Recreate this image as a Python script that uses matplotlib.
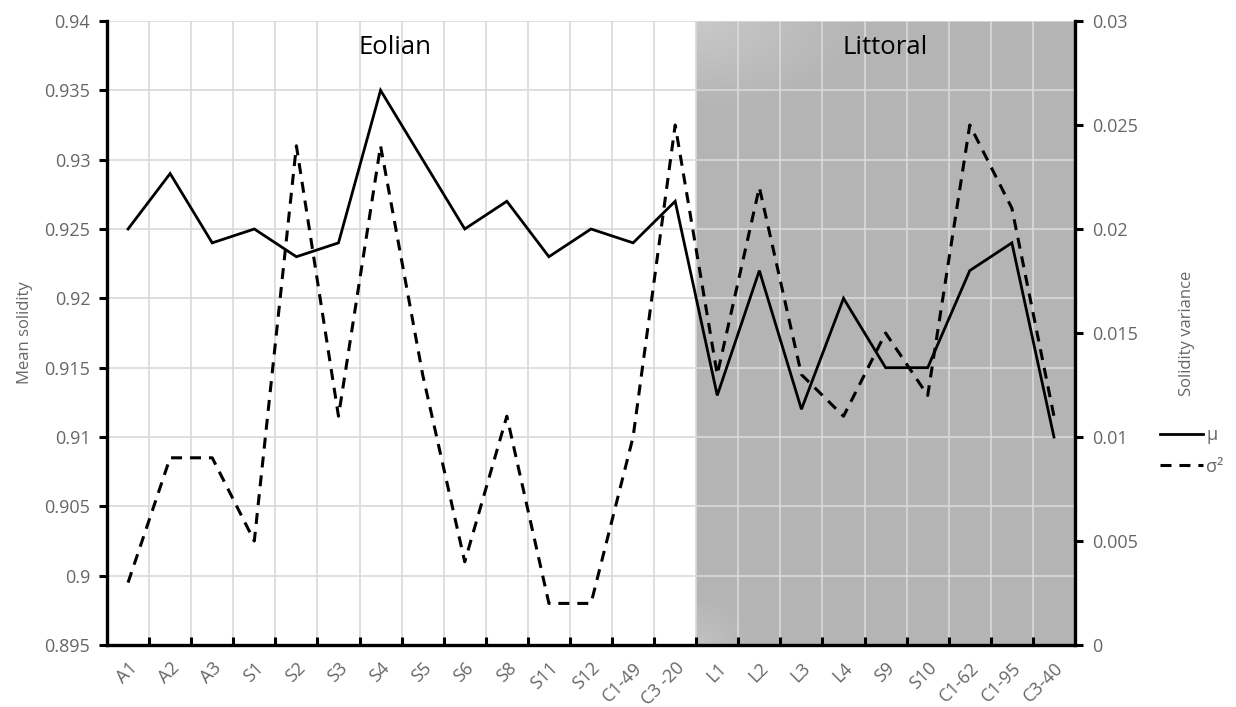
import matplotlib
matplotlib.use("Agg")
import matplotlib.pyplot as plt
import numpy as np
from matplotlib.lines import Line2D

categories = ["A1", "A2", "A3", "S1", "S2", "S3", "S4", "S5", "S6", "S8", "S11", "S12",
              "C1-49", "C3 -20", "L1", "L2", "L3", "L4", "S9", "S10", "C1-62", "C1-95", "C3-40"]
mean_solidity = [0.925, 0.929, 0.924, 0.925, 0.923, 0.924, 0.935, 0.930, 0.925, 0.927, 0.923, 0.925,
                 0.924, 0.927, 0.913, 0.922, 0.912, 0.920, 0.915, 0.915, 0.922, 0.924, 0.910]
solidity_var = [0.003, 0.009, 0.009, 0.005, 0.024, 0.011, 0.024, 0.013, 0.004, 0.011, 0.002, 0.002,
                0.010, 0.025, 0.013, 0.022, 0.013, 0.011, 0.015, 0.012, 0.025, 0.021, 0.011]
left_ticks = [0.895, 0.9, 0.905, 0.91, 0.915, 0.92, 0.925, 0.93, 0.935, 0.94]
right_ticks = [0, 0.005, 0.01, 0.015, 0.02, 0.025, 0.03]
n_eolian = 14

plt.rcParams['font.family'] = ['Open Sans', 'DejaVu Sans']
gray = '#666666'

fig = plt.figure(figsize=(12.36, 7.07), dpi=100)
ax = fig.add_axes([107/1236, 1-645/707, (1075-107)/1236, (645-21)/707])
ax2 = ax.twinx()

n = len(categories)
x = np.arange(n)

# shaded littoral region with subtle gradient
xs0, xs1 = n_eolian-0.5, n-0.5
gx = np.linspace(0, 1, 200)
gy = np.linspace(0, 1, 200)
GX, GY = np.meshgrid(gx, gy)
light = np.clip(1 - np.sqrt((GX/0.45)**2 + (GY/0.14)**2), 0, 1)*0.08
light2 = np.clip(1 - np.sqrt((GX/0.15)**2 + ((1-GY)/0.08)**2), 0, 1)*0.05
val = 0.706 + light + light2
img = np.dstack([val, val, val])
ax.imshow(img, extent=[xs0, xs1, left_ticks[0], left_ticks[-1]], aspect='auto',
          origin='upper', zorder=0.5, interpolation='bilinear')
ax.set_xlim(-0.5, n-0.5)
ax.set_ylim(left_ticks[0], left_ticks[-1])
ax2.set_ylim(right_ticks[0], right_ticks[-1])

# grid
for b in np.arange(0.5, n-1, 1.0):
    ax.axvline(b, color='#d9d9d9', lw=1.2, zorder=1)
for t in left_ticks[1:]:
    ax.axhline(t, color='#d9d9d9', lw=1.2, zorder=1)

ax.plot(x, mean_solidity, color='black', lw=2.0, zorder=5, solid_joinstyle='miter')
ax2.plot(x, solidity_var, color='black', lw=2.2, dashes=(3.6, 2.6), zorder=5)

# ticks
ax.set_xticks(x)
ax.set_xticklabels(categories, rotation=45, ha='right', va='top', rotation_mode='anchor',
                   color=gray, fontsize=13)
ax.tick_params(axis='x', which='major', length=0, pad=10)
ax.set_xticks(np.arange(0.5, n-1, 1.0), minor=True)
ax.tick_params(axis='x', which='minor', direction='in', length=6, width=2.2, color='black')

ax.set_yticks(left_ticks)
ax.set_yticklabels(['%g' % t for t in left_ticks], color=gray, fontsize=13)
ax.tick_params(axis='y', direction='out', length=6, width=2.2, color='black', pad=6)

ax2.set_yticks(right_ticks)
ax2.set_yticklabels(['%g' % t for t in right_ticks], color=gray, fontsize=13)
ax2.tick_params(axis='y', direction='out', length=6, width=2.2, color='black', pad=6)

for a in (ax, ax2):
    a.spines['top'].set_visible(False)
    for s in ('left', 'right', 'bottom'):
        a.spines[s].set_linewidth(2.4)
        a.spines[s].set_color('black')
ax.spines['right'].set_visible(False)
ax2.spines['left'].set_visible(False)
ax2.spines['bottom'].set_visible(False)

ax.set_ylabel('Mean solidity', color=gray, fontsize=12, labelpad=8)
ax2.set_ylabel('Solidity variance', color=gray, fontsize=12, labelpad=30)

ax.text(6.34, 0.957, 'Eolian', transform=ax.get_xaxis_transform(), ha='center', va='center',
        fontsize=18.5, color='black', zorder=6)
ax.text(17.98, 0.957, 'Littoral', transform=ax.get_xaxis_transform(), ha='center', va='center',
        fontsize=18.5, color='black', zorder=6)

handles = [Line2D([], [], color='black', lw=2.0),
           Line2D([], [], color='black', lw=2.2, dashes=(3.6, 2.6))]
fig.legend(handles, ['μ', 'σ²'], loc='upper left', bbox_to_anchor=(1160/1236, 1-426/707),
           frameon=False, fontsize=13, handlelength=2.4, handletextpad=0.15,
           borderpad=0, borderaxespad=0, labelcolor=gray, labelspacing=0.75)

fig.savefig('out.png', dpi=100)
